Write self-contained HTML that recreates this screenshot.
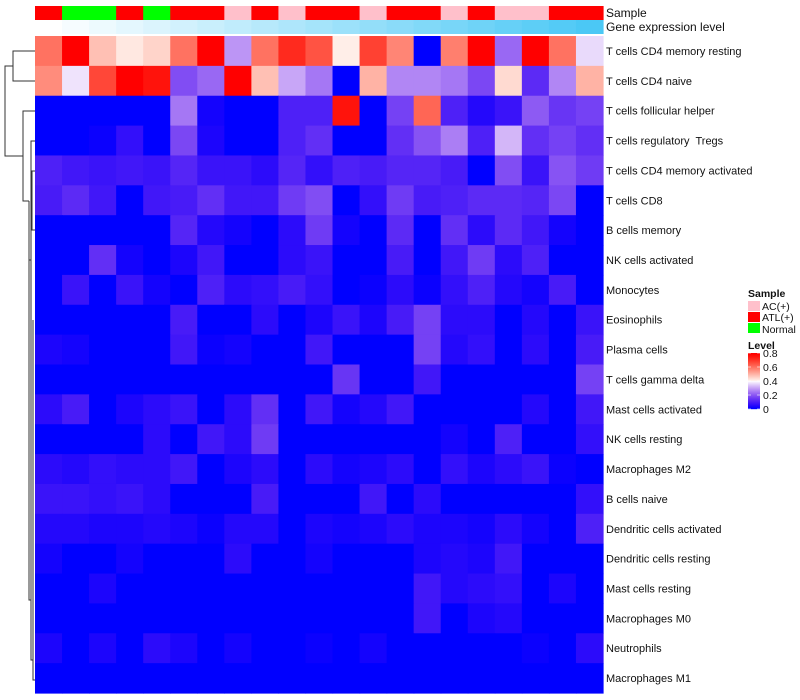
<!DOCTYPE html>
<html><head><meta charset="utf-8"><style>
body{margin:0;background:#fff;font-family:"Liberation Sans",sans-serif}
svg{display:block}
text{font-family:"Liberation Sans",sans-serif;fill:#111;white-space:pre}
</style></head><body>
<svg id="chart" width="800" height="700"></svg>
<script>
const rowLabels=["T cells CD4 memory resting","T cells CD4 naive","T cells follicular helper","T cells regulatory  Tregs","T cells CD4 memory activated","T cells CD8","B cells memory","NK cells activated","Monocytes","Eosinophils","Plasma cells","T cells gamma delta","Mast cells activated","NK cells resting","Macrophages M2","B cells naive","Dendritic cells activated","Dendritic cells resting","Mast cells resting","Macrophages M0","Neutrophils","Macrophages M1"];
const sampleGroups=["ATL(+)","Normal","Normal","ATL(+)","Normal","ATL(+)","ATL(+)","AC(+)","ATL(+)","AC(+)","ATL(+)","ATL(+)","AC(+)","ATL(+)","ATL(+)","AC(+)","ATL(+)","AC(+)","AC(+)","ATL(+)","ATL(+)"];
const levelTicks=[0,0.2,0.4,0.6,0.8];
const values=[
[0.6,0.8,0.48,0.42,0.45,0.6,0.8,0.28,0.6,0.72,0.65,0.41,0.68,0.57,0,0.58,0.8,0.22,0.8,0.6,0.36],
[0.56,0.37,0.67,0.8,0.76,0.18,0.22,0.8,0.48,0.3,0.24,0,0.5,0.26,0.26,0.24,0.17,0.44,0.12,0.26,0.5],
[0,0,0,0,0,0.24,0.02,0,0,0.1,0.1,0.76,0,0.16,0.62,0.1,0.04,0.07,0.2,0.14,0.16],
[0,0,0.01,0.06,0,0.17,0.03,0,0,0.1,0.13,0,0,0.13,0.19,0.25,0.1,0.32,0.13,0.16,0.13],
[0.1,0.08,0.07,0.08,0.07,0.11,0.07,0.07,0.05,0.11,0.06,0.1,0.09,0.11,0.11,0.09,0,0.18,0.07,0.19,0.15],
[0.09,0.12,0.08,0,0.08,0.09,0.13,0.08,0.08,0.15,0.18,0,0.06,0.15,0.09,0.1,0.12,0.12,0.11,0.17,0],
[0,0,0,0,0,0.11,0.04,0.02,0,0.05,0.15,0.02,0,0.12,0,0.13,0.05,0.12,0.08,0.02,0],
[0,0,0.13,0.02,0,0.03,0.08,0,0,0.05,0.07,0,0,0.09,0,0.08,0.15,0.05,0.1,0,0],
[0,0.07,0,0.07,0.02,0,0.1,0.05,0.06,0.09,0.06,0,0.01,0.05,0.01,0.06,0.1,0.04,0.02,0.09,0],
[0,0,0,0,0,0.09,0,0,0.05,0,0.03,0.07,0.03,0.09,0.16,0.05,0.05,0,0.04,0,0.07],
[0.03,0.02,0,0,0,0.08,0.01,0.02,0,0,0.08,0,0,0,0.16,0.04,0.06,0,0.05,0,0.09],
[0,0,0,0,0,0,0,0,0,0,0,0.14,0,0,0.08,0,0,0,0,0,0.16],
[0.05,0.09,0,0.03,0.05,0.07,0,0.05,0.13,0,0.08,0.02,0.04,0.08,0,0,0,0,0.04,0,0.08],
[0,0,0,0,0.05,0,0.08,0.05,0.15,0,0,0,0,0,0,0.02,0,0.1,0,0,0.06],
[0.05,0.04,0.06,0.05,0.05,0.08,0,0.03,0.05,0,0.05,0.02,0.03,0.05,0,0.06,0.03,0.05,0.07,0.01,0],
[0.07,0.07,0.06,0.07,0.05,0,0,0,0.09,0,0,0,0.08,0,0.05,0,0,0,0,0,0.06],
[0.04,0.04,0.03,0.03,0.04,0.03,0.01,0.04,0.04,0,0.03,0.02,0.03,0.05,0.03,0.03,0.02,0.05,0.02,0,0.1],
[0.02,0,0,0.02,0,0,0,0.05,0,0,0.02,0,0,0,0.03,0.04,0.03,0.08,0,0,0],
[0,0,0.03,0,0,0,0,0,0,0,0,0,0,0,0.08,0.04,0.05,0.06,0,0.03,0],
[0,0,0,0,0,0,0,0,0,0,0,0,0,0,0.08,0,0.03,0.04,0,0,0],
[0.03,0,0.03,0,0.05,0.03,0,0.02,0,0,0.01,0,0.02,0,0,0,0,0,0.01,0,0.05],
[0,0,0,0,0,0,0,0,0,0,0,0,0,0,0,0,0,0,0,0,0]
];
const NS="http://www.w3.org/2000/svg";
const svg=document.getElementById('chart');
const X0=35,X1=603,Y0=36,Y1=693;
const nC=values[0].length,nR=values.length;
const cw=(X1-X0)/nC,rh=(Y1-Y0)/nR;
const xPos=c=>X0+c*cw, yPos=r=>Y0+r*rh;
function color(v){v=Math.max(0,Math.min(0.8,v));let r,g,b;
 if(v<=0.4){const t=v/0.4;r=Math.round(255*Math.pow(t,0.85));g=Math.round(255*Math.pow(t,1.5));b=255-Math.round(12*Math.sin(Math.PI*t));}
 else{const t=(v-0.4)/0.4;r=255;g=Math.round(245*Math.pow(1-t,1.1));b=Math.round(240*Math.pow(1-t,1.3));}
 return `rgb(${r},${g},${b})`;}
const groupColor={"AC(+)":"#FFC0CB","ATL(+)":"#FF0000","Normal":"#00FF00"};
function el(tag,attrs){const e=document.createElementNS(NS,tag);for(const k in attrs)e.setAttribute(k,attrs[k]);svg.appendChild(e);return e;}
for(let r=0;r<nR;r++)for(let c=0;c<nC;c++){
 const e=el('rect',{x:xPos(c),y:yPos(r),width:cw+0.6,height:rh+0.6,fill:color(values[r][c])});
 
 
}
for(let c=0;c<nC;c++){
 const a=el('rect',{x:xPos(c),y:6,width:cw+0.6,height:14,fill:groupColor[sampleGroups[c]]});
 
 
 const t=c/(nC-1);
 const g=el('rect',{x:xPos(c),y:20,width:cw+0.6,height:14,fill:`rgb(${Math.round(255-180*t)},${Math.round(255-55*t)},${Math.round(255-10*t)})`});
 
 
}
for(let r=0;r<nR;r++){
 const t=el('text',{x:606,y:yPos(r)+rh/2+4,'font-size':11});t.textContent=rowLabels[r];
 
 
}
const CB0=353,CB1=409;
for(let i=0;i<56;i++){const v=0.8*(1-i/55);const e=el('rect',{x:748,y:CB0+i,width:12,height:1.2,fill:color(v)});
 
 }
levelTicks.forEach(v=>{const y=CB1-(v/0.8)*(CB1-CB0);
 const t=el('text',{x:763,y:y+4,'font-size':10.5});t.textContent=v;
 
 
 el('line',{x1:748,x2:751,y1:y,y2:y,stroke:'#fff','stroke-width':0.6});
 el('line',{x1:757,x2:760,y1:y,y2:y,stroke:'#fff','stroke-width':0.6});});
</script>
<svg style="position:absolute;left:0;top:0" width="800" height="700">
<g stroke="#333" stroke-width="1" fill="none">
<path d="M35,51H13V81H35"/>
<path d="M13,66H5V156H23"/>
<path d="M35,111H23V201H29"/>
<path d="M35,141H31V260H29"/>
<path d="M29,201V600H31"/>
<path d="M35,171H32V230H35"/>
<path d="M31,230V660H33"/>
<path d="M33,320V680H35"/>
</g>
<text x="606" y="17" font-size="12">Sample</text>
<text x="606" y="31" font-size="12">Gene expression level</text>
<g font-size="10.5">
<text x="748" y="297" font-weight="bold">Sample</text>
<rect x="748" y="301" width="12" height="10" fill="#FFC0CB"/>
<text x="762" y="310">AC(+)</text>
<rect x="748" y="312" width="12" height="10" fill="#FF0000"/>
<text x="762" y="321">ATL(+)</text>
<rect x="748" y="323" width="12" height="10" fill="#00FF00"/>
<text x="762" y="333">Normal</text>
<text x="748" y="349" font-weight="bold">Level</text>
</g>
</svg>
</body></html>
